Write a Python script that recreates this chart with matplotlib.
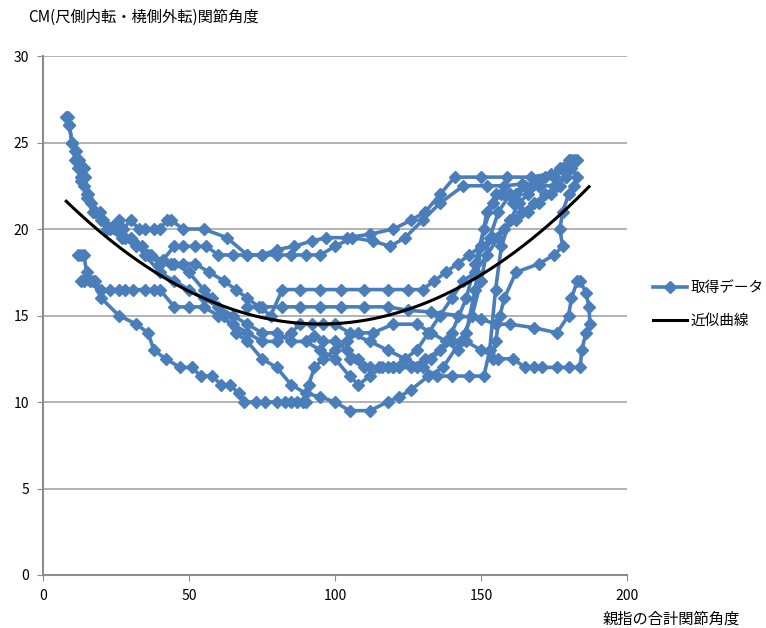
import numpy as np
import matplotlib
matplotlib.use("Agg")
import matplotlib.pyplot as plt
from matplotlib.lines import Line2D

plt.rcParams['font.family'] = ['Noto Sans CJK JP', 'DejaVu Sans']

# measured traces: total thumb joint angle (x) vs CM joint angle (y)
run1_x = [8, 8.5, 9, 10, 11.5, 12.5, 14, 14.5, 15.5, 16.5, 19.5, 20.5, 24, 26, 27.5, 30, 33, 35, 38, 40,
          42.5, 44, 48, 55, 63, 70, 75, 80, 86, 92, 97, 104, 112, 120, 126, 131, 136, 141, 150, 159,
          167, 174, 178, 180, 182]
run1_y = [26.5, 26.5, 26, 25, 24.5, 24, 23.5, 23, 22, 21.5, 21, 20.5, 20.2, 20.5, 20, 20.5, 20, 20, 20, 20,
          20.5, 20.5, 20, 20, 19.5, 18.5, 18.5, 18.8, 19, 19.3, 19.5, 19.5, 19.7, 20, 20.5, 21, 22, 23, 23, 23,
          23, 23.2, 23.5, 24, 24]

run2_x = [9, 10, 11, 13, 14, 15, 17, 20, 23, 26, 28, 31, 34, 37, 41, 45, 48, 52, 56, 60, 65, 70, 75, 80,
          85, 90, 95, 100, 106, 113, 119, 124, 130, 136, 144, 152, 158, 164, 170, 175, 179, 181]
run2_y = [26, 25, 24, 23, 22.5, 21.8, 21, 20.5, 20, 19.8, 19.5, 19.3, 19, 18.5, 18.2, 19, 19, 19, 19, 18.5,
          18.5, 18.5, 18.5, 18.5, 18.5, 18.5, 18.5, 19, 19.5, 19.3, 19, 19.5, 20.5, 21.5, 22.5, 22.5, 22.5,
          22.6, 22.5, 22.5, 23, 23.5]

run3_x = [10, 11, 12, 13, 15, 18, 22, 27, 32, 36, 40, 44, 48, 52, 57, 62, 66, 70, 74, 78, 82, 88, 95, 102,
          110, 118, 125, 130, 134, 138, 142, 146, 150, 154, 158, 162, 166, 170, 174, 177]
run3_y = [25, 24.5, 23.5, 22.8, 22, 21, 20, 19.5, 19, 18.5, 18, 18, 18, 18, 17.5, 17, 16.5, 16, 15.5, 15,
          16.5, 16.5, 16.5, 16.5, 16.5, 16.5, 16.5, 16.5, 17, 17.5, 18, 18.5, 19, 19.5, 20, 20.5, 21, 21.5,
          22, 22.5]

run4_x = [12, 13, 14, 15, 13, 16, 18, 20, 23, 26, 28, 31, 35, 38, 40, 45, 50, 55, 60, 65, 70, 75, 80, 85,
          88, 92, 96, 100, 105, 112, 118, 124, 130, 135, 140, 146, 151, 153, 155, 157, 160, 163, 166, 170]
run4_y = [18.5, 18.5, 18.5, 17.5, 17, 17, 17, 16.5, 16.5, 16.5, 16.5, 16.5, 16.5, 16.5, 16.5, 15.5, 15.5,
          15.5, 15, 14.5, 14, 13.5, 13.5, 14, 14.5, 14.5, 14.5, 14.5, 14, 13.5, 13, 12.5, 12, 11.5, 11.5,
          11.5, 11.5, 13, 16.5, 19, 20.5, 21.5, 22, 22.5]

run5_x = [14, 17, 20, 26, 32, 36, 38, 42, 47, 51, 54, 58, 61, 64, 67, 69, 73, 76, 80, 83, 85, 87, 89, 90,
          91, 93, 96, 100, 104, 108, 113, 120, 128, 133, 138, 142, 145, 148, 150, 152, 155, 158, 161]
run5_y = [17, 17, 16, 15, 14.5, 14, 13, 12.5, 12, 12, 11.5, 11.5, 11, 11, 10.5, 10, 10, 10, 10, 10, 10, 10,
          10, 10, 11, 12, 12.5, 13, 13.5, 14, 14, 14.5, 14.5, 14, 13.5, 13, 14, 16.5, 19, 21, 22, 22, 21.5]

run6_x = [45, 50, 55, 58, 62, 66, 70, 75, 80, 85, 90, 95, 100, 105, 112, 118, 122, 126, 132, 137, 143, 147,
          150, 153, 156, 160, 165, 170, 175, 180, 183]
run6_y = [18, 17.5, 16.5, 16, 15, 14, 13.5, 12.5, 12, 11, 10.5, 10.3, 10, 9.5, 9.5, 10, 10.3, 10.7, 11.5,
          12, 13.5, 15, 17, 19.5, 21, 22, 22.5, 22.8, 23, 23.5, 24]

run7_x = [70, 75, 82, 88, 95, 102, 110, 118, 125, 133, 142, 150, 155, 160, 168, 176, 180, 181, 183, 184,
          186, 187, 187.3, 186, 184.5, 184, 180, 176, 171, 168, 165, 161, 156, 150, 145, 140, 133, 128, 122,
          118, 112, 108, 104, 100, 96, 93]
run7_y = [15.5, 15.5, 15.5, 15.5, 15.5, 15.5, 15.5, 15.5, 15.3, 15.2, 15, 14.8, 14.5, 14.5, 14.3, 14, 15,
          16, 17, 17, 16.3, 15.5, 14.5, 14, 13, 12, 12, 12, 12, 12, 12, 12.5, 12.5, 13, 13.5, 13.5, 12.5, 12,
          12, 12, 12, 12.5, 13, 13.5, 13.5, 13.8]

run8_x = [105, 110, 115, 120, 124, 128, 132, 136, 140, 144, 148, 152, 156, 160, 164, 168, 172, 176, 179,
          181, 183, 182, 180, 178, 177, 178, 175, 170, 162, 158, 156.5, 155, 154]
run8_y = [12.5, 12, 12, 12, 12.5, 13, 14, 15, 16, 17, 17.5, 18.5, 19.5, 20.5, 21, 21.5, 22, 22.5, 23,
          23.5, 23, 22.5, 22, 21, 20, 19, 18.5, 18, 17.5, 16, 15, 13.5, 12.5]

run9_x = [25, 30, 35, 40, 45, 50, 55, 60, 65, 70, 75, 80, 85, 90, 95, 100, 105, 108, 112, 116, 120, 126,
          131, 136, 140, 145, 148, 151, 154, 157, 162, 167, 172, 177, 181]
run9_y = [20, 19.5, 18.5, 17.5, 17, 16.5, 16, 15.5, 15, 14.5, 14, 14, 13.5, 13.5, 13, 12.5, 11.5, 11, 11.5,
          12, 12, 12, 12.5, 13, 14, 16, 18, 20, 21.5, 22, 22, 22.5, 23, 23.5, 24]

runs = [(run1_x, run1_y), (run2_x, run2_y), (run3_x, run3_y), (run4_x, run4_y), (run5_x, run5_y),
        (run6_x, run6_y), (run7_x, run7_y), (run8_x, run8_y), (run9_x, run9_y)]

# quadratic approximation curve
trend_coef = [0.000938, -0.1782, 22.97]
trend_range = (8, 187)

blue = '#4A7EBB'

fig = plt.figure(figsize=(7.66, 6.28), dpi=100)
ax = fig.add_axes([0.056, 0.0844, 0.7625, 0.8264])

for xs, ys in runs:
    ax.plot(xs, ys, color=blue, lw=2.6, marker='D', markersize=6.5,
            markerfacecolor=blue, markeredgecolor=blue, solid_joinstyle='round', zorder=2)

tx = np.linspace(trend_range[0], trend_range[1], 200)
ax.plot(tx, np.polyval(trend_coef, tx), color='black', lw=2.2, zorder=3)

ax.set_xlim(0, 200)
ax.set_ylim(0, 30)
ax.set_xticks([0, 50, 100, 150, 200])
ax.set_yticks([0, 5, 10, 15, 20, 25, 30])
ax.yaxis.grid(True, color='#a6a6a6', lw=1.2)
ax.set_axisbelow(True)
for side in ('top', 'right'):
    ax.spines[side].set_visible(False)
for side in ('left', 'bottom'):
    ax.spines[side].set_color('#8c8c8c')
    ax.spines[side].set_linewidth(1.5)
ax.tick_params(axis='both', direction='out', length=4, color='#8c8c8c', labelsize=10, pad=6)

fig.text(0.037, 0.972, 'CM(尺側内転・橈側外転)関節角度', fontsize=11, ha='left', va='center')
fig.text(0.966, 0.014, '親指の合計関節角度', fontsize=11, ha='right', va='center')

handles = [Line2D([], [], color=blue, lw=2.6, marker='D', markersize=6.5),
           Line2D([], [], color='black', lw=2.2)]
fig.legend(handles, ['取得データ', '近似曲線'], loc='center left', bbox_to_anchor=(0.853, 0.515),
           frameon=False, fontsize=10.5, handlelength=2.3, handletextpad=0.25, labelspacing=1.3,
           borderpad=0, borderaxespad=0)

fig.savefig('out.png', dpi=100)
